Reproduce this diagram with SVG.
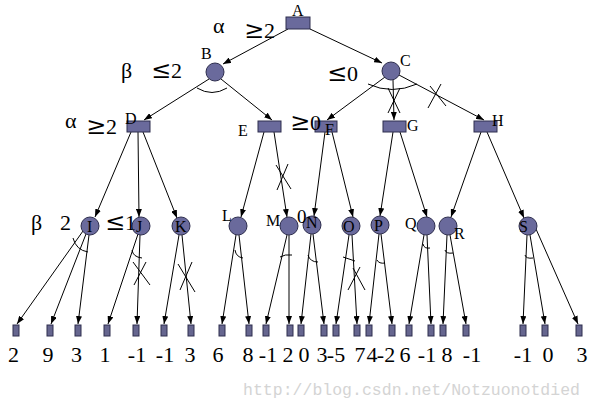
<svg xmlns="http://www.w3.org/2000/svg" width="594" height="410" viewBox="0 0 594 410">
<defs>
<marker id="ah" markerUnits="userSpaceOnUse" markerWidth="8" markerHeight="6" refX="8" refY="3" orient="auto">
<path d="M0,0 L8,3 L0,6 z" fill="#000"/>
</marker>
<style>
.n{fill:#6a6a9c;stroke:#2e2e4e;stroke-width:1}
.lf{fill:#66668f;stroke:#2e2e4e;stroke-width:1}
.e{stroke:#000;stroke-width:1;fill:none;marker-end:url(#ah)}
.m{stroke:#000;stroke-width:1;fill:none}
.t{font-family:"Liberation Serif","Times New Roman",serif;font-size:16px;fill:#000}
.v{font-family:"Liberation Serif","Times New Roman",serif;font-size:22px;fill:#000;text-anchor:middle}
.a{font-family:"Liberation Serif","Times New Roman",serif;font-size:22px;fill:#000}
.g{font-family:"DejaVu Serif",serif;font-size:24px}
</style>
</defs>
<rect width="594" height="410" fill="#fff"/>

<g id="connectors">
<line class="e" x1="288" y1="29" x2="223" y2="64"/>
<line class="e" x1="310" y1="29" x2="382" y2="63"/>
<line class="e" x1="209" y1="79" x2="144" y2="120"/>
<line class="e" x1="221" y1="79" x2="272" y2="120"/>
<line class="e" x1="385" y1="77" x2="327" y2="120"/>
<line class="e" x1="393" y1="80" x2="394" y2="120"/>
<line class="e" x1="399" y1="75" x2="484" y2="120"/>
<line class="e" x1="131" y1="132" x2="95" y2="217"/>
<line class="e" x1="138" y1="132" x2="139" y2="217"/>
<line class="e" x1="143" y1="132" x2="177" y2="218"/>
<line class="e" x1="264" y1="132" x2="241" y2="217"/>
<line class="e" x1="274" y1="132" x2="287" y2="217"/>
<line class="e" x1="325" y1="132" x2="314" y2="216"/>
<line class="e" x1="332" y1="132" x2="353" y2="217"/>
<line class="e" x1="393" y1="132" x2="380" y2="216"/>
<line class="e" x1="400" y1="132" x2="427" y2="217"/>
<line class="e" x1="481" y1="132" x2="451" y2="217"/>
<line class="e" x1="487" y1="132" x2="524" y2="218"/>
<line class="e" x1="83" y1="231" x2="17" y2="324"/>
<line class="e" x1="86" y1="234" x2="51" y2="324"/>
<line class="e" x1="89" y1="235" x2="78" y2="324"/>
<line class="e" x1="138" y1="234" x2="108" y2="324"/>
<line class="e" x1="140" y1="235" x2="137" y2="324"/>
<line class="e" x1="179" y1="235" x2="164" y2="324"/>
<line class="e" x1="182" y1="235" x2="191" y2="324"/>
<line class="e" x1="236" y1="235" x2="222" y2="324"/>
<line class="e" x1="239" y1="235" x2="249" y2="324"/>
<line class="e" x1="287" y1="235" x2="266" y2="324"/>
<line class="e" x1="289" y1="235" x2="289" y2="324"/>
<line class="e" x1="311" y1="234" x2="301" y2="324"/>
<line class="e" x1="313" y1="234" x2="324" y2="324"/>
<line class="e" x1="349" y1="235" x2="336" y2="324"/>
<line class="e" x1="352" y1="235" x2="357" y2="324"/>
<line class="e" x1="379" y1="234" x2="369" y2="324"/>
<line class="e" x1="381" y1="234" x2="392" y2="324"/>
<line class="e" x1="424" y1="235" x2="409" y2="324"/>
<line class="e" x1="427" y1="235" x2="431" y2="324"/>
<line class="e" x1="447" y1="235" x2="443" y2="324"/>
<line class="e" x1="450" y1="235" x2="466" y2="324"/>
<line class="e" x1="527" y1="235" x2="523" y2="324"/>
<line class="e" x1="530" y1="235" x2="545" y2="324"/>
<line class="e" x1="536" y1="229" x2="578" y2="324"/>
<path class="m" d="M197,88 Q212,97 227,88"/>
<path class="m" d="M368,84 Q392,95 417,84"/>
<path class="m" d="M73,238 Q76,250 88,252"/>
<path class="m" d="M132,250 Q133,257 142,258"/>
<path class="m" d="M235,250 Q236,257 243,258"/>
<path class="m" d="M280,257 Q285,254 292,255"/>
<path class="m" d="M308,255 Q310,262 318,262"/>
<path class="m" d="M343,257 L355,261"/>
<path class="m" d="M377,260 Q379,264 385,263"/>
<path class="m" d="M423,244 Q424,249 430,248"/>
<path class="m" d="M445,250 Q446,254 453,253"/>
<path class="m" d="M525,255 Q526,259 533,258"/>
<path class="m" d="M388,88 L400,113 M400,88 L388,113"/>
<path class="m" d="M428,108 L441,84 M430,86 L446,106"/>
<path class="m" d="M276,165 L291,189 M288,164 L277,190"/>
<path class="m" d="M133,262 L150,285 M134,285 L146,262"/>
<path class="m" d="M178,264 L195,292 M180,290 L192,262"/>
<path class="m" d="M348,290 L360,267 M353,268 L365,290"/>
</g>

<g id="A"><rect class="n" x="286" y="17" width="24" height="12"/><text class="t" x="292" y="16">A</text></g>
<g id="B"><circle class="n" cx="215" cy="72" r="9"/><text class="t" x="201" y="59">B</text></g>
<g id="C"><circle class="n" cx="391" cy="71" r="9"/><text class="t" x="400" y="66">C</text></g>
<g id="D"><rect class="n" x="127" y="121" width="23" height="11"/><text class="t" x="125" y="124">D</text></g>
<g id="E"><rect class="n" x="258" y="121" width="23" height="11"/><text class="t" x="238" y="136">E</text></g>
<g id="F"><rect class="n" x="315" y="121" width="22" height="11"/><text class="t" x="325" y="135">F</text></g>
<g id="G"><rect class="n" x="383" y="121" width="23" height="11"/><text class="t" x="407" y="131">G</text></g>
<g id="H"><rect class="n" x="474" y="121" width="23" height="11"/><text class="t" x="492" y="126">H</text></g>
<g id="I"><circle class="n" cx="90" cy="226" r="9"/><text class="t" x="87" y="232">I</text></g>
<g id="J"><circle class="n" cx="141" cy="226" r="9"/><text class="t" x="136" y="232">J</text></g>
<g id="K"><circle class="n" cx="181" cy="226" r="9"/><text class="t" x="175" y="232">K</text></g>
<g id="L"><circle class="n" cx="238" cy="226" r="9"/><text class="t" x="222" y="221">L</text></g>
<g id="M"><circle class="n" cx="289" cy="226" r="9"/><text class="t" x="266" y="226">M</text></g>
<g id="N"><circle class="n" cx="312" cy="225" r="9"/><text class="t" x="306" y="228">N</text></g>
<g id="O"><circle class="n" cx="351" cy="226" r="9"/><text class="t" x="343" y="232">O</text></g>
<g id="P"><circle class="n" cx="380" cy="225" r="9"/><text class="t" x="374" y="231">P</text></g>
<g id="Q"><circle class="n" cx="426" cy="226" r="9"/><text class="t" x="405" y="229">Q</text></g>
<g id="R"><circle class="n" cx="448" cy="226" r="9"/><text class="t" x="454" y="239">R</text></g>
<g id="S"><circle class="n" cx="528" cy="226" r="9"/><text class="t" x="519" y="232">S</text></g>

<g id="leaf1"><rect class="lf" x="13" y="325" width="6" height="11"/><text class="v" x="13.5" y="362">2</text></g>
<g id="leaf2"><rect class="lf" x="47" y="325" width="6" height="11"/><text class="v" x="48" y="362">9</text></g>
<g id="leaf3"><rect class="lf" x="75" y="325" width="6" height="11"/><text class="v" x="76.5" y="362">3</text></g>
<g id="leaf4"><rect class="lf" x="104" y="325" width="6" height="11"/><text class="v" x="105" y="362">1</text></g>
<g id="leaf5"><rect class="lf" x="133" y="325" width="6" height="11"/><text class="v" x="137" y="362">-1</text></g>
<g id="leaf6"><rect class="lf" x="161" y="325" width="6" height="11"/><text class="v" x="165" y="362">-1</text></g>
<g id="leaf7"><rect class="lf" x="188" y="325" width="6" height="11"/><text class="v" x="190" y="362">3</text></g>
<g id="leaf8"><rect class="lf" x="219" y="325" width="6" height="11"/><text class="v" x="218" y="362">6</text></g>
<g id="leaf9"><rect class="lf" x="246" y="325" width="6" height="11"/><text class="v" x="248" y="362">8</text></g>
<g id="leaf10"><rect class="lf" x="263" y="325" width="6" height="11"/><text class="v" x="268" y="362">-1</text></g>
<g id="leaf11"><rect class="lf" x="287" y="325" width="6" height="11"/><text class="v" x="288" y="362">2</text></g>
<g id="leaf12"><rect class="lf" x="298" y="325" width="6" height="11"/><text class="v" x="304" y="362">0</text></g>
<g id="leaf13"><rect class="lf" x="321" y="325" width="6" height="11"/><text class="v" x="322" y="362">3</text></g>
<g id="leaf14"><rect class="lf" x="333" y="325" width="6" height="11"/><text class="v" x="336" y="362">-5</text></g>
<g id="leaf15"><rect class="lf" x="354" y="325" width="6" height="11"/><text class="v" x="360" y="362">7</text></g>
<g id="leaf16"><rect class="lf" x="366" y="325" width="6" height="11"/><text class="v" x="372" y="362">4</text></g>
<g id="leaf17"><rect class="lf" x="389" y="325" width="6" height="11"/><text class="v" x="386" y="362">-2</text></g>
<g id="leaf18"><rect class="lf" x="406" y="325" width="6" height="11"/><text class="v" x="405" y="362">6</text></g>
<g id="leaf19"><rect class="lf" x="428" y="325" width="6" height="11"/><text class="v" x="427" y="362">-1</text></g>
<g id="leaf20"><rect class="lf" x="440" y="325" width="6" height="11"/><text class="v" x="447" y="362">8</text></g>
<g id="leaf21"><rect class="lf" x="463" y="325" width="6" height="11"/><text class="v" x="472" y="362">-1</text></g>
<g id="leaf22"><rect class="lf" x="520" y="325" width="6" height="11"/><text class="v" x="523" y="362">-1</text></g>
<g id="leaf23"><rect class="lf" x="542" y="325" width="6" height="11"/><text class="v" x="548" y="362">0</text></g>
<g id="leaf24"><rect class="lf" x="576" y="325" width="6" height="11"/><text class="v" x="582" y="362">3</text></g>

<g id="bounds">
<text class="a" x="213" y="33">α</text>
<text class="a" x="244" y="38"><tspan class="g">≥</tspan>2</text>
<text class="a" x="121" y="78">β</text>
<text class="a" x="151" y="78"><tspan class="g">≤</tspan>2</text>
<text class="a" x="327" y="81"><tspan class="g">≤</tspan>0</text>
<text class="a" x="65" y="128">α</text>
<text class="a" x="86" y="134"><tspan class="g">≥</tspan>2</text>
<text class="a" x="290" y="130"><tspan class="g">≥</tspan>0</text>
<text class="a" x="31" y="230">β</text><text class="a" x="60" y="230">2</text>
<text class="a" x="105" y="230"><tspan class="g">≤</tspan>1</text>
<text class="a" x="297" y="223" style="font-size:19px">0</text>
</g>

<text x="243" y="395" textLength="337" style="font-family:'Liberation Mono','Courier New',monospace;font-size:16.5px;fill:#d4d4d4">http://blog.csdn.net/Notzuonotdied</text>
</svg>
